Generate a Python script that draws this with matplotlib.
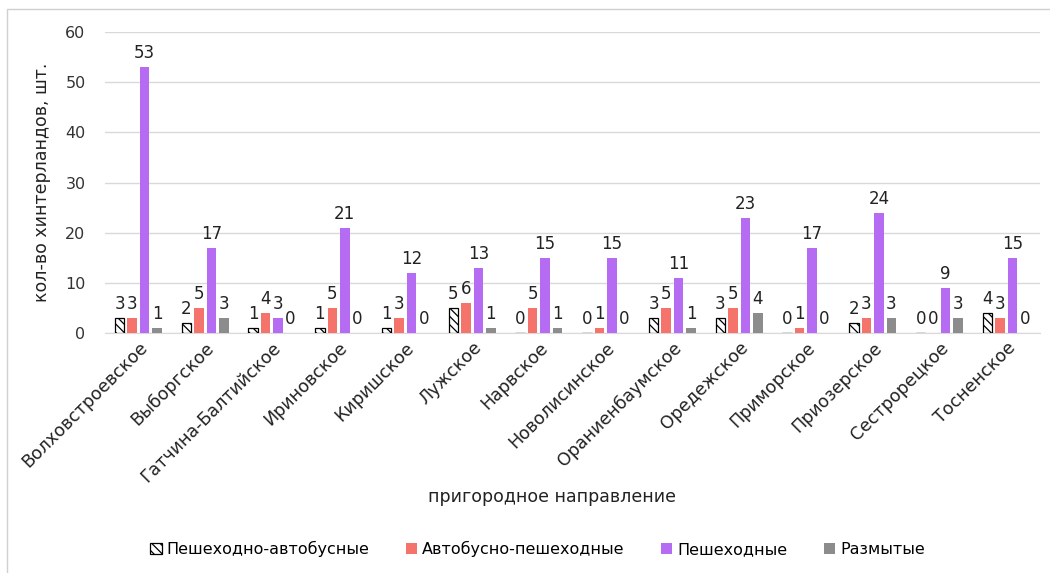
import matplotlib
matplotlib.use("Agg")
import matplotlib.pyplot as plt
import numpy as np
from matplotlib.patches import Rectangle

plt.rcParams['font.family'] = ['DejaVu Sans']
plt.rcParams['hatch.linewidth'] = 0.9

categories = ["Волховстроевское", "Выборгское", "Гатчина-Балтийское", "Ириновское",
              "Киришское", "Лужское", "Нарвское", "Новолисинское", "Ораниенбаумское",
              "Оредежское", "Приморское", "Приозерское", "Сестрорецкое", "Тосненское"]
series_names = ["Пешеходно-автобусные", "Автобусно-пешеходные", "Пешеходные", "Размытые"]
ped_bus = [3, 2, 1, 1, 1, 5, 0, 0, 3, 3, 0, 2, 0, 4]
bus_ped = [3, 5, 4, 5, 3, 6, 5, 1, 5, 5, 1, 3, 0, 3]
pedestrian = [53, 17, 3, 21, 12, 13, 15, 15, 11, 23, 17, 24, 9, 15]
blurred = [1, 3, 0, 0, 0, 1, 1, 0, 1, 4, 0, 3, 3, 0]
y_ticks = [0, 10, 20, 30, 40, 50, 60]

series = [ped_bus, bus_ped, pedestrian, blurred]
colors = ["white", "#F4736B", "#B56CF2", "#8C8C8C"]
hatches = ["\\\\\\\\", None, None, None]
edges = ["black", "none", "none", "none"]

fig = plt.figure(figsize=(10.5, 5.73), dpi=100)
ax = fig.add_axes([0.1, 0.419, 0.89, 0.525])

x = np.arange(len(categories))
step = 0.187
width = 0.14
txt_color = "#222222"
for i, (vals, c, h, e) in enumerate(zip(series, colors, hatches, edges)):
    pos = x + (i - 1.5) * step
    ax.bar(pos, vals, width, color=c, hatch=h, edgecolor=e,
           linewidth=0.9 if e != "none" else 0, label=series_names[i], zorder=3)
    for p, v in zip(pos, vals):
        ax.text(p, v + 1.0, str(v), ha="center", va="bottom", fontsize=12, color=txt_color)

ax.set_xlim(-0.5, len(categories) - 0.5)
ax.set_ylim(0, 60)
ax.set_yticks(y_ticks)
ax.tick_params(axis="y", length=0, labelsize=11.5, labelcolor="#333333", pad=14)
ax.tick_params(axis="x", length=0, labelsize=12.5, labelcolor="#222222", pad=4)
ax.set_xticks(x)
ax.set_xticklabels(categories, rotation=45, ha="right", rotation_mode="anchor")
ax.grid(axis="y", color="#D9D9D9", linewidth=1, zorder=0)
for s in ["top", "right", "left"]:
    ax.spines[s].set_visible(False)
ax.spines["bottom"].set_color("#D9D9D9")
ax.set_ylabel("кол-во хинтерландов, шт.", fontsize=12.5, color="#222222", labelpad=10)
ax.set_xlabel("пригородное направление", fontsize=12.5, color="#222222")
ax.xaxis.set_label_coords(0.478, -0.515)

leg = fig.legend(loc="center", bbox_to_anchor=(0.512, 0.042), ncol=4, frameon=False,
                 fontsize=11.5, handlelength=0.7, handleheight=0.7, handletextpad=0.3,
                 columnspacing=2.3)

fig.patches.append(Rectangle((7 / 1050, -0.1), 1.2, 1 - 9 / 573 + 0.1,
                             transform=fig.transFigure, fill=False,
                             edgecolor="#D0D0D0", linewidth=1))

fig.savefig("out.png", dpi=100)
